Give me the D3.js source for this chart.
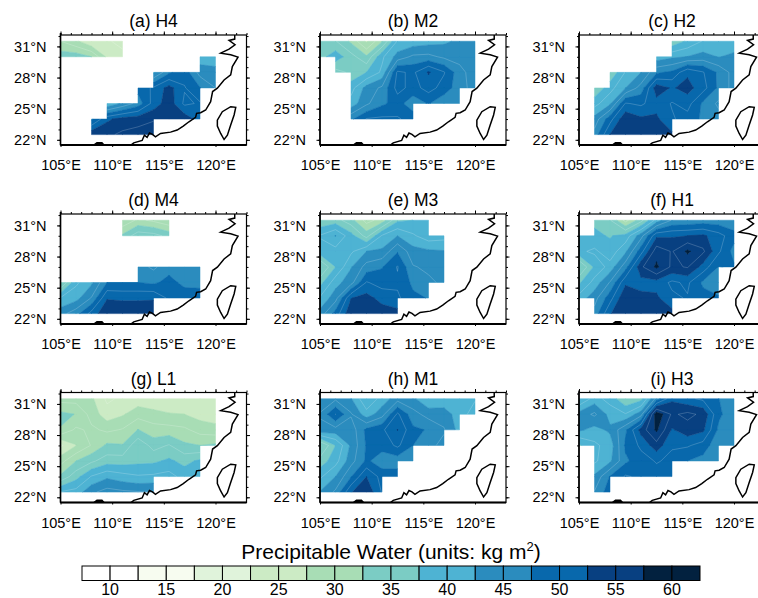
<!DOCTYPE html>
<html>
  <head>
    <meta charset="utf-8">
    <title>Precipitable Water</title>
    <style>
      html,body{margin:0;padding:0;background:#fff;overflow:hidden}
      text{font-family:"Liberation Sans",Arial,sans-serif;fill:#000}
    </style>
  </head>
  <body>
    <svg width="758" height="598"></svg>
    <script src="https://cdn.jsdelivr.net/npm/d3@7"></script>
    <script>
      // grid: rows go north to south, null = no data
      var lons = [105,106.5,108,109.5,111,112.5,114,115.5,117,118.5,120]
      var lats = [31.5,30,28.5,27,25.5,24,22.5]
      var _ = null

      var h4 = [
        [30,28,25.2,25.4,24,_,_,_,_,_,_],
        [34,34,32.5,27,26,_,_,_,_,41,40],
        [_,_,_,_,_,_,42,47,49,44,44],
        [_,_,_,_,_,48.5,50.4,53.5,50.2,47.6,45],
        [_,_,_,40,43,46,51,54,49.5,50.3,_],
        [_,_,47,52,53.5,54,54.8,54.7,54,51.5,_],
        [_,_,54.5,54.5,55.5,56,56.2,_,_,_,_]
      ]
      var m2 = [
        [35.4,35.2,32,27,32.3,40.3,41,41.5,42,43,43.5],
        [36.5,39,36,33,39.5,43.5,45.5,45.7,44.5,44,44.2],
        [_,34,35.5,37.5,40.5,50.5,49.5,52.8,50.2,46,43.5],
        [_,_,39,43.5,45.5,51,49,51,49,46,44],
        [_,_,41,44.5,47,48.5,46,47.7,45.5,45.2,_],
        [_,_,47,50.2,50.5,50.3,49,_,_,_,_],
        [_,_,_,_,_,_,_,_,_,_,_]
      ]
      var h2 = [
        [_,_,_,_,_,_,35.5,38,40.2,41,41.2],
        [_,_,_,_,_,41,42,42.6,43.5,42.4,43],
        [_,_,35.2,40.2,42.5,47,48,52,50.2,47,44],
        [_,35.3,39,42.5,46,54,52.2,53.5,51,47,44],
        [_,39,42,50.2,49.5,51.5,49.8,51,47,44.5,_],
        [_,43.5,49,54.5,53,53,50.3,49,47,46,_],
        [_,46,52.6,54.8,54.8,54.5,53,_,_,_,_]
      ]
      var m4 = [
        [_,_,_,_,28,30.5,29.5,28,_,_,_],
        [_,_,_,_,33,36.5,36,34.2,_,_,_],
        [_,_,_,_,_,_,_,_,_,_,_],
        [_,_,_,_,_,46,44.5,46.5,45.5,45.2,_],
        [32,39.5,42,47.5,47.5,47.5,47,48.4,46.8,47.2,_],
        [40.2,41.5,45.2,52.3,52,52,52.2,49.5,49,48,_],
        [44,46.5,51,54.5,54.8,54.8,54.5,_,_,_,_]
      ]
      var m3 = [
        [35.3,36,33.5,29,31,37,37.5,38,_,_,_],
        [40.2,42.6,38.5,34,40.3,42.5,40.4,38.5,39,_,_],
        [39,39,39.5,42.5,43,47.3,43.5,43,42.7,_,_],
        [32,37.5,42.3,46,47.3,50.2,45.2,44.5,44.5,_,_],
        [36.5,41.5,44,50.2,49,49.5,47,45.5,44.5,_,_],
        [40.3,44,52.4,53.5,51.5,50.5,48,47.4,_,_,_],
        [43.5,48.5,54.5,54.8,54,53.5,_,_,_,_,_]
      ]
      var h1 = [
        [_,37,35.2,29,34,41,45.2,45.5,46,46,45.5],
        [39,38,37.3,38.5,44,52,52.2,52.5,53,51,48.5],
        [39.5,40.5,38.5,42,49,56.5,54.8,58,55.5,50.5,46.5],
        [32,38,41,46.5,54.5,58,54.5,55.2,51.5,47.4,47.8],
        [37,41,45.2,52,51.5,51.5,49.5,50.5,47,46,_],
        [41,44,49,54.8,53.3,53,50.5,49.8,48.5,47.8,_],
        [_,46,52.3,54.8,54.8,54.5,53.5,_,_,_,_]
      ]
      var l1 = [
        [29,29,28,24.5,25.5,26,25.2,25.5,25.5,25.2,25.3],
        [33.2,32.4,29,26,27.2,29,28.5,27.7,27.5,26.5,26],
        [32.3,29.5,30.5,29.5,30.2,32.6,31,31,30.5,29,28.5],
        [24.5,27.4,30.2,33,32.7,37,34,35.2,33,32.5,33],
        [29,32.5,34.5,36.3,36.3,36.8,37,38,36.7,38,_],
        [33,36.5,40.2,42,41,40.3,40.5,41,39,39.5,_],
        [40.2,41,44.5,46,45.5,45.2,45.3,_,_,_,_]
      ]
      var m1 = [
        [43.5,44.5,42.7,37.8,41,44,43,40.2,40.4,40.3,40.2],
        [45.2,50.1,45.3,41,44,50.5,46,44,44,41,39],
        [44.5,44,43.5,48.2,49.5,52.6,48,47.3,45.2,41.5,_],
        [32,37.5,43,47.8,48.5,50.5,47.5,45.5,44.5,_,_],
        [36,39,44,48,46,46,47,_,_,_,_],
        [39.5,42.5,47.3,52.5,49,49,_,_,_,_,_],
        [42.7,45.5,52.3,54.5,49.8,_,_,_,_,_,_]
      ]
      var h3 = [
        [37.5,41,39,35.2,36.5,46,52,50.5,49.5,47.6,45.2],
        [43.5,45.5,41.5,40.2,44,59.5,54.6,55.6,54.5,48,46],
        [43,41.5,43,47,53.5,58,52.2,54,53,47,45.2],
        [37,39.5,41,48,50.5,54,50.2,50.3,49,45.5,45.3],
        [_,39.5,42,47,49,50.2,49.5,47.5,46.5,45.2,_],
        [_,43,47.7,50.3,49.5,49,48.5,_,_,_,_],
        [_,45.2,49,_,_,_,_,_,_,_,_]
      ]

      var panelData = [h4,m2,h2,m4,m3,h1,l1,m1,h3]
      var panelTitles = ["(a) H4","(b) M2","(c) H2","(d) M4","(e) M3","(f) H1","(g) L1","(h) M1","(i) H3"]

      // colour bands and contour lines
      var bandEdges = [7.5,12.5,17.5,22.5,27.5,32.5,37.5,42.5,47.5,52.5,57.5,62.5]
      var bandColors = ["#ffffff","#f7fcf0","#e0f3db","#ccebc5","#a8ddb5","#7bccc4","#4eb3d3","#2b8cbe","#0868ac","#084081","#02213f"]
      var lineLevels = [25,30,35,40,45,50,55]
      var barLabels = [10,15,20,25,30,35,40,45,50,55,60]

      // coast and Taiwan, lon/lat
      var coastLon = [111.7,112.09,112.9,113.12,113.38,113.61,113.9,114.19,114.68,115.65,116.29,116.88,117.43,118.07,118.17,118.56,119.05,119.53,119.72,120.18,120.83,121.47,121.63,122.18,121.47,120.5,121.31,121.89,121.31,121.86,121.86]
      var coastLat = [21.4,21.71,21.94,22.45,22.23,22.65,22.52,22.29,22.61,22.74,22.94,23.32,23.74,24.16,24.55,24.61,24.87,25.68,26.65,26.97,27.77,28.26,29.06,29.97,30.19,30.35,30.74,31.16,31.58,31.71,32.2]
      var taiwanLon = [121.47,121.96,121.8,121.47,121.15,120.83,120.5,120.18,120.18,120.66,121.47]
      var taiwanLat = [25.19,25.13,24.39,23.42,22.45,22.03,22.61,23.32,23.9,24.71,25.19]
      var hainanLon = [108.1,108.53,109.01,109.3]
      var hainanLat = [21.4,21.71,21.71,21.4]

      var svg = d3.select("svg")
      var panelW = 186, panelH = 110
      var colX = [60.5,320,579], rowY = [35,214,392.5]

      var x = d3.scaleLinear().domain([105,123]).range([0,panelW])
      var y = d3.scaleLinear().domain([21.5,32.1]).range([panelH,0])
      var pathLine = d3.line().x(function(d){return x(d[0])}).y(function(d){return y(d[1])})

      // keep the part of a polygon with value on one side of a level
      function clip(poly,level,keepAbove){
        var out = []
        for(var i=0;i<poly.length;i++){
          var a = poly[i], b = poly[(i+1)%poly.length]
          var ina = keepAbove ? a[2]>=level : a[2]<=level
          var inb = keepAbove ? b[2]>=level : b[2]<=level
          if(ina) out.push(a)
          if(ina!=inb){
            var t = (level-a[2])/(b[2]-a[2])
            out.push([a[0]+t*(b[0]-a[0]),a[1]+t*(b[1]-a[1]),level])
          }
        }
        return out
      }

      // grid cells that have all four corners
      function cellsOf(grid){
        var cells = []
        for(var j=0;j<lats.length-1;j++){
          for(var i=0;i<lons.length-1;i++){
            var v = [grid[j][i],grid[j][i+1],grid[j+1][i+1],grid[j+1][i]]
            if(v.indexOf(null)>=0) continue
            cells.push([[lons[i],lats[j],v[0]],[lons[i+1],lats[j],v[1]],[lons[i+1],lats[j+1],v[2]],[lons[i],lats[j+1],v[3]]])
          }
        }
        return cells
      }

      function contourSegments(cell,level){
        var pts = []
        for(var i=0;i<4;i++){
          var a = cell[i], b = cell[(i+1)%4]
          if((a[2]<level)!=(b[2]<level)){
            var t = (level-a[2])/(b[2]-a[2])
            pts.push([a[0]+t*(b[0]-a[0]),a[1]+t*(b[1]-a[1])])
          }
        }
        var segs = []
        if(pts.length>=2) segs.push([pts[0],pts[1]])
        if(pts.length==4) segs.push([pts[2],pts[3]])
        return segs
      }

      panelData.forEach(function(grid,k){
        var px = colX[k%3], py = rowY[Math.floor(k/3)]
        var g = svg.append("g").attr("transform","translate("+px+","+py+")")

        g.append("clipPath").attr("id","clip"+k).append("rect").attr("width",panelW).attr("height",panelH)
        var map = g.append("g").attr("clip-path","url(#clip"+k+")")
        var cells = cellsOf(grid)

        bandColors.forEach(function(color,b){
          var d = ""
          cells.forEach(function(c){
            var p = clip(clip(c,bandEdges[b],true),bandEdges[b+1],false)
            if(p.length>2) d += pathLine(p)+"Z"
          })
          if(d) map.append("path").attr("d",d).attr("fill",color).attr("stroke",color).attr("stroke-width",0.5)
        })

        lineLevels.forEach(function(level){
          var d = ""
          cells.forEach(function(c){
            contourSegments(c,level).forEach(function(s){ d += pathLine(s) })
          })
          if(d) map.append("path").attr("d",d).attr("fill","none").attr("stroke","#ffffff").attr("stroke-opacity",0.32).attr("stroke-width",0.6)
        })

        // coast
        map.append("path").attr("d",pathLine(d3.zip(coastLon,coastLat))).attr("fill","none").attr("stroke","#000").attr("stroke-width",1.5)
        map.append("path").attr("d",pathLine(d3.zip(taiwanLon,taiwanLat))+"Z").attr("fill","none").attr("stroke","#000").attr("stroke-width",1.5)
        map.append("path").attr("d",pathLine(d3.zip(hainanLon,hainanLat))).attr("fill","#000").attr("stroke","#000").attr("stroke-width",1.5)

        // frame and ticks, all pointing out
        var lonTicks = [105,110,115,120], latTicks = [22,25,28,31]
        var lonMinor = d3.range(105,124), latMinor = d3.range(22,33)
        function drawAxis(axis,tx,ty){
          var a = g.append("g").attr("transform","translate("+tx+","+ty+")").call(axis)
          a.select(".domain").remove()
          a.selectAll("line").attr("stroke","#000").attr("stroke-width",1)
          a.selectAll("text").style("font-size","14.5px")
          return a
        }
        drawAxis(d3.axisTop(x).tickValues(lonMinor).tickSize(2).tickFormat(""),0,0)
        drawAxis(d3.axisTop(x).tickValues(lonTicks).tickSize(3.5).tickFormat(""),0,0)
        drawAxis(d3.axisBottom(x).tickValues(lonTicks).tickSize(2).tickPadding(13).tickFormat(function(d){return d+"°E"}),0,panelH)
        drawAxis(d3.axisLeft(y).tickValues(latMinor).tickSize(2).tickFormat(""),0,0)
        drawAxis(d3.axisLeft(y).tickValues(latTicks).tickSize(3.5).tickPadding(10.5).tickFormat(function(d){return d+"°N"}),0,0)
        drawAxis(d3.axisRight(y).tickValues(latMinor).tickSize(2).tickFormat(""),panelW,0)
        drawAxis(d3.axisRight(y).tickValues(latTicks).tickSize(3.5).tickFormat(""),panelW,0)

        g.append("rect").attr("width",panelW).attr("height",panelH).attr("fill","none").attr("stroke","#000").attr("stroke-width",1.2)
        g.append("line").attr("x1",0).attr("x2",panelW).attr("y1",panelH).attr("y2",panelH).attr("stroke","#000").attr("stroke-width",2)
        g.append("line").attr("x1",0).attr("x2",0).attr("y1",-2).attr("y2",panelH).attr("stroke","#000").attr("stroke-width",1.5)

        g.append("text").attr("x",panelW/2).attr("y",-8).attr("text-anchor","middle").style("font-size","17.5px").text(panelTitles[k])
      })

      // colour bar
      var barX = d3.scaleLinear().domain([7.5,62.5]).range([82,700])
      var bar = svg.append("g")
      var boxes = d3.range(7.5,62.5,2.5)
      var barColor = d3.scaleThreshold().domain(bandEdges.slice(1,-1)).range(bandColors)
      bar.selectAll("rect").data(boxes).enter().append("rect")
        .attr("x",function(d){return barX(d)})
        .attr("y",566).attr("height",14.5)
        .attr("width",function(d){return barX(d+2.5)-barX(d)})
        .attr("fill",function(d){return barColor(d+0.1)})
        .attr("stroke","#000").attr("stroke-width",1)
      bar.selectAll("text").data(barLabels).enter().append("text")
        .attr("x",function(d){return barX(d)}).attr("y",594.5)
        .attr("text-anchor","middle").style("font-size","16px")
        .text(function(d){return d})

      var barTitle = svg.append("text").attr("x",391).attr("y",559).attr("text-anchor","middle").style("font-size","21px")
      barTitle.append("tspan").text("Precipitable Water (units: kg m")
      barTitle.append("tspan").attr("dy",-8).style("font-size","13px").text("2")
      barTitle.append("tspan").attr("dy",8).text(")")
    </script>
  </body>
</html>
